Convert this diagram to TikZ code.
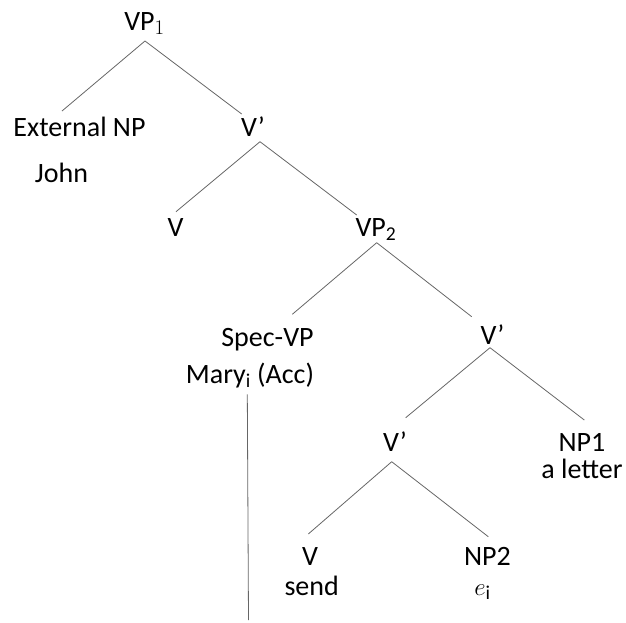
\documentclass[tikz,border=0pt]{standalone}
\usepackage{fontspec}
\setmainfont{Carlito}
\begin{document}
\begin{tikzpicture}[x=1pt,y=-1pt,
  lbl/.style={anchor=base,inner sep=0pt,font=\fontsize{28}{34}\selectfont,text=black},
  edge/.style={draw=black!60,line width=0.8pt}]
\useasboundingbox (0,0) rectangle (626,622);
% nodes
\node[lbl] (vp1) at (144.5,30) {VP$_1$};
\node[lbl] (ext) at (79.5,136.5) {External NP};
\node[lbl] (john) at (61.5,182) {John};
\node[lbl] (vb1) at (253,136) {V’};
\node[lbl] (v1) at (175.5,236) {V};
\node[lbl] (vp2) at (376,236) {VP\textsubscript{2}};
\node[lbl] (spec) at (267.5,346) {Spec-VP};
\node[lbl] (mary) at (250,383) {Mary$_{\mathrm{i}}$ (Acc)};
\node[lbl] (vb2) at (492.5,344) {V’};
\node[lbl] (vb3) at (395,451.5) {V’};
\node[lbl] (np1) at (582,451) {NP1};
\node[lbl] (letter) at (582,478) {a letter};
\node[lbl] (v2) at (310,565) {V};
\node[lbl] (send) at (311.7,595) {send};
\node[lbl] (np2) at (487.5,565) {NP2};
\node[lbl] (ei) at (482.5,595) {$e_{\mathrm{i}}$};
\coordinate (trace) at (248.5,620);
% connectors
\draw[edge] ([shift={(0.5,11)}]vp1.base) -- ([shift={(-17.5,-25.5)}]ext.base);
\draw[edge] ([shift={(0.5,11)}]vp1.base) -- ([shift={(-11.3,-22)}]vb1.base);
\draw[edge] ([shift={(7,5.7)}]vb1.base) -- ([shift={(0.5,-24.3)}]v1.base);
\draw[edge] ([shift={(7,5.7)}]vb1.base) -- ([shift={(-19.3,-21)}]vp2.base);
\draw[edge] ([shift={(0.7,6.7)}]vp2.base) -- ([shift={(24.8,-31.7)}]spec.base);
\draw[edge] ([shift={(0.7,6.7)}]vp2.base) -- ([shift={(-20.8,-27.3)}]vb2.base);
\draw[edge] ([shift={(-2.5,3.7)}]vb2.base) -- ([shift={(10.7,-33.8)}]vb3.base);
\draw[edge] ([shift={(-2.5,3.7)}]vb2.base) -- ([shift={(2.3,-31)}]np1.base);
\draw[edge] ([shift={(-3.3,10.2)}]vb3.base) -- ([shift={(-1.7,-31)}]v2.base);
\draw[edge] ([shift={(-3.3,10.2)}]vb3.base) -- ([shift={(0.8,-28.3)}]np2.base);
\draw[edge] ([shift={(-2.7,11.3)}]mary.base) -- (trace);
\end{tikzpicture}
\end{document}
